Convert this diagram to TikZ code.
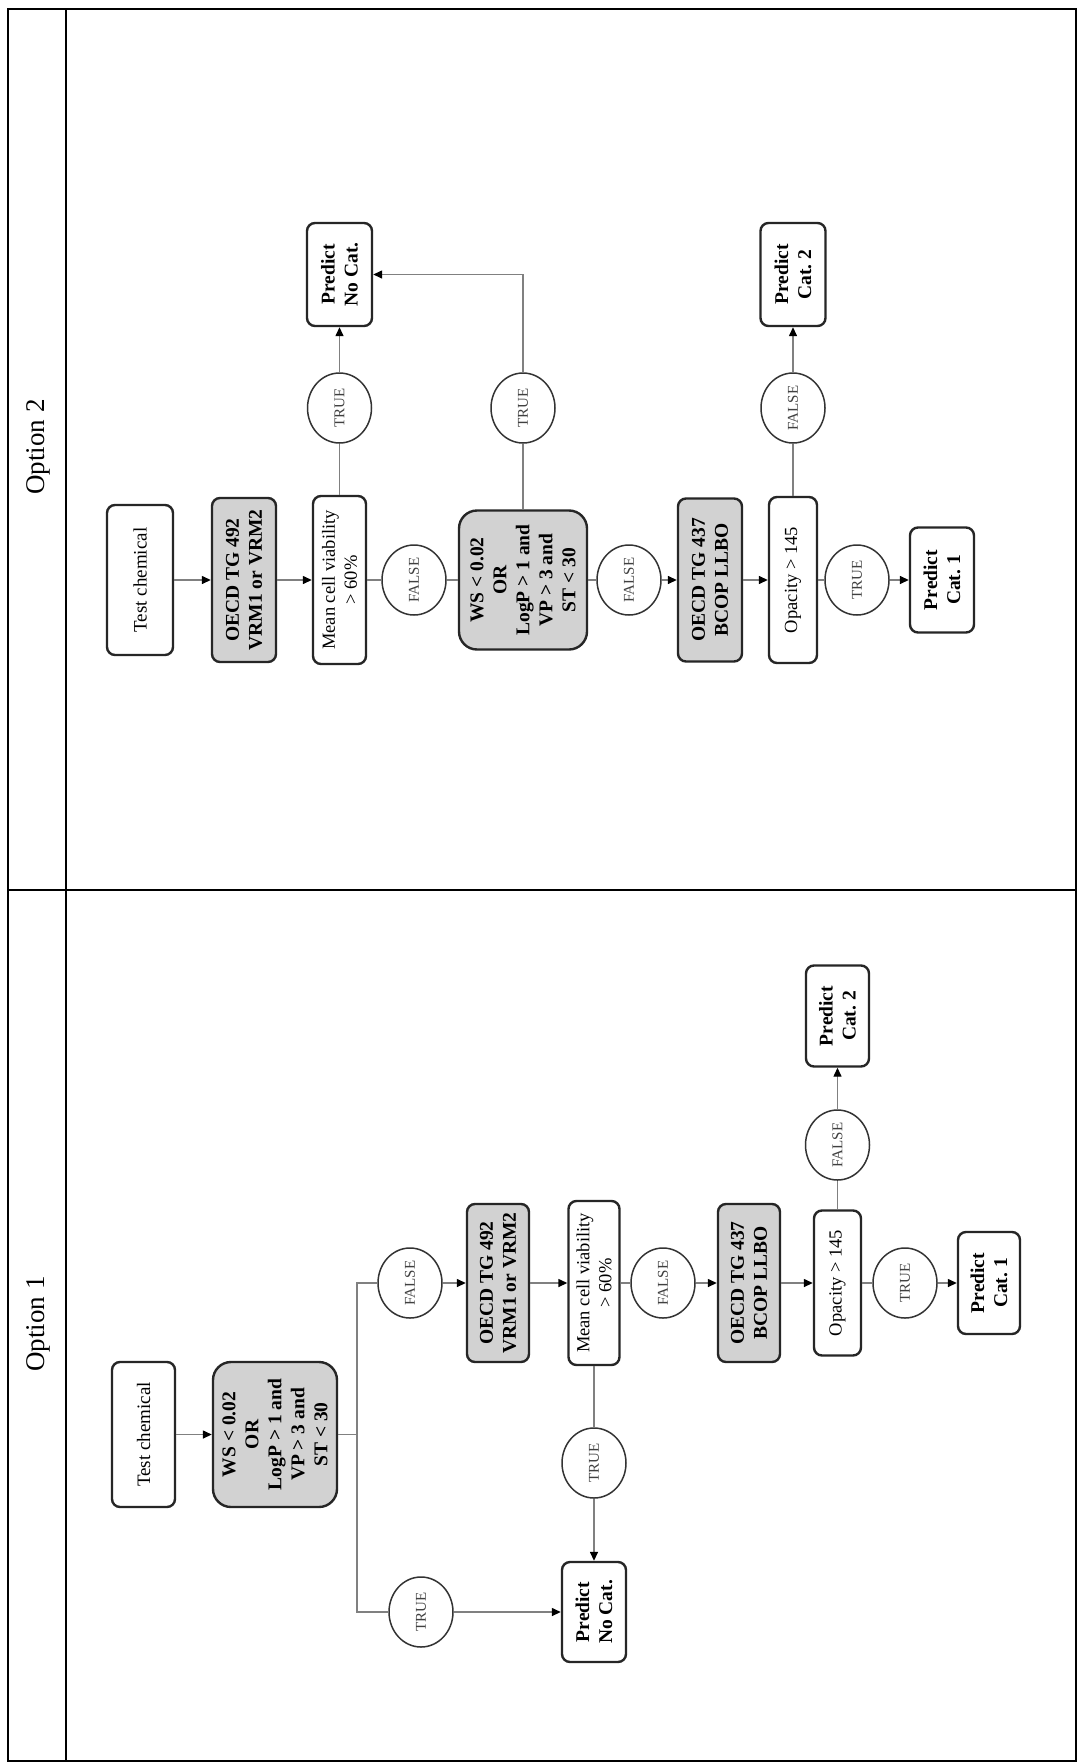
\documentclass[tikz,border=0pt]{standalone}
\usepackage{fontspec}
\setmainfont{Liberation Serif}
\usetikzlibrary{shapes.geometric,arrows.meta}
\frenchspacing
\begin{document}
\begin{tikzpicture}[x=1pt,y=-1pt,
  box/.style={draw=black!85, line width=2.4pt, rounded corners=8pt, fill=white, rotate=90, align=center, inner sep=0pt, font=\fontsize{19}{23}\selectfont},
  greybox/.style={fill=gray!35},
  bbold/.style={font=\fontsize{19.5}{23}\selectfont\bfseries},
  reg/.style={font=\fontsize{18.5}{22}\selectfont},
  lab/.style={ellipse, draw=black!80, line width=1.5pt, fill=white, rotate=90, inner sep=0pt, minimum width=70pt, minimum height=64pt, text=black!75, font=\fontsize{15}{16}\selectfont},
  conn/.style={draw=black!50, line width=1.4pt},
  arr/.style={conn, -{Triangle[length=9pt,width=8pt,color=black]}},
  optlab/.style={rotate=90, font=\fontsize{27}{30}\selectfont},
]
\useasboundingbox (0,0) rectangle (1078,1763);
\fill[white] (0,0) rectangle (1078,1763);
% frame
\draw[line width=2pt] (8,9) rectangle (1076,1761);
\draw[line width=2pt] (66,9) -- (66,1761);
\draw[line width=2pt] (8,890) -- (1076,890);
\node[optlab] (opt2) at (38,447) {Option 2};
\node[optlab] (opt1) at (38,1324) {Option 1};

% ---------------- Option 2 ----------------
\node[box, minimum width=150pt, minimum height=66pt] (tcb) at (140,580) {Test chemical};
\node[box, greybox, bbold, minimum width=164pt, minimum height=64pt] (tfb) at (244,580) {OECD TG 492\\VRM1 or VRM2};
\node[box, reg, minimum width=168pt, minimum height=53pt] (mcvb) at (339.5,580) {Mean cell viability\\> 60\%};
\node[lab] (fb1) at (414,580) {FALSE};
\node[box, greybox, bbold, rounded corners=18pt, minimum width=139pt, minimum height=128pt] (wsb) at (523,580) {WS < 0.02\\OR\\LogP > 1 and\\VP > 3 and\\ST < 30};
\node[lab] (fb2) at (629,580) {FALSE};
\node[box, greybox, bbold, minimum width=163pt, minimum height=64pt] (tsb) at (710,580) {OECD TG 437\\BCOP LLBO};
\node[box, reg, minimum width=166pt, minimum height=48pt] (opb) at (793,580) {Opacity > 145};
\node[lab] (tb3) at (857,580) {TRUE};
\node[box, bbold, minimum width=105pt, minimum height=64pt] (cob) at (942,580) {Predict\\Cat. 1};
\node[lab] (tb1) at (339.5,408) {TRUE};
\node[box, bbold, minimum width=103pt, minimum height=65pt] (ncb) at (339.5,274.5) {Predict\\No Cat.};
\node[lab] (tb2) at (523,408) {TRUE};
\node[lab] (fb3) at (793,408) {FALSE};
\node[box, bbold, minimum width=103pt, minimum height=65pt] (ctb) at (793,274.5) {Predict\\Cat. 2};

\draw[arr] (tcb) -- (tfb);
\draw[arr] (tfb) -- (mcvb);
\draw[conn] (mcvb) -- (fb1);
\draw[conn] (fb1) -- (wsb);
\draw[conn] (wsb) -- (fb2);
\draw[arr] (fb2) -- (tsb);
\draw[arr] (tsb) -- (opb);
\draw[conn] (opb) -- (tb3);
\draw[arr] (tb3) -- (cob);
\draw[conn] (mcvb) -- (tb1);
\draw[arr] (tb1) -- (ncb);
\draw[conn] (wsb) -- (tb2);
\draw[arr] (tb2) |- (ncb);
\draw[conn] (opb) -- (fb3);
\draw[arr] (fb3) -- (ctb);

% ---------------- Option 1 ----------------
\node[box, minimum width=145pt, minimum height=63pt] (tca) at (143.5,1434.5) {Test chemical};
\node[box, greybox, bbold, rounded corners=18pt, minimum width=145pt, minimum height=124pt] (wsa) at (275,1434.5) {WS < 0.02\\OR\\LogP > 1 and\\VP > 3 and\\ST < 30};
\coordinate (bra) at (357,1434.5);
\node[lab] (fa1) at (410,1283) {FALSE};
\node[box, greybox, bbold, minimum width=158pt, minimum height=62pt] (tfa) at (498,1283) {OECD TG 492\\VRM1 or VRM2};
\node[box, reg, minimum width=164pt, minimum height=51pt] (mcva) at (594,1283) {Mean cell viability\\> 60\%};
\node[lab] (fa2) at (663,1283) {FALSE};
\node[box, greybox, bbold, minimum width=158pt, minimum height=62pt] (tsa) at (749,1283) {OECD TG 437\\BCOP LLBO};
\node[box, reg, minimum width=145pt, minimum height=47pt] (opa) at (837.5,1283) {Opacity > 145};
\node[lab] (ta3) at (905,1283) {TRUE};
\node[box, bbold, minimum width=102pt, minimum height=62pt] (coa) at (989,1283) {Predict\\Cat. 1};
\node[lab] (fa3) at (837.5,1145) {FALSE};
\node[box, bbold, minimum width=101pt, minimum height=63pt] (cta) at (837.5,1016) {Predict\\Cat. 2};
\node[lab] (ta2) at (594,1463) {TRUE};
\node[box, bbold, minimum width=100pt, minimum height=64pt] (nca) at (594,1612) {Predict\\No Cat.};
\node[lab] (ta1) at (421,1612) {TRUE};

\draw[arr] (tca) -- (wsa);
\draw[conn] (wsa) -- (bra);
\draw[conn] (bra) |- (fa1);
\draw[conn] (bra) |- (ta1);
\draw[arr] (fa1) -- (tfa);
\draw[arr] (tfa) -- (mcva);
\draw[conn] (mcva) -- (fa2);
\draw[arr] (fa2) -- (tsa);
\draw[arr] (tsa) -- (opa);
\draw[conn] (opa) -- (ta3);
\draw[arr] (ta3) -- (coa);
\draw[conn] (opa) -- (fa3);
\draw[arr] (fa3) -- (cta);
\draw[conn] (mcva) -- (ta2);
\draw[arr] (ta2) -- (nca);
\draw[arr] (ta1) -- (nca);
\end{tikzpicture}
\end{document}
